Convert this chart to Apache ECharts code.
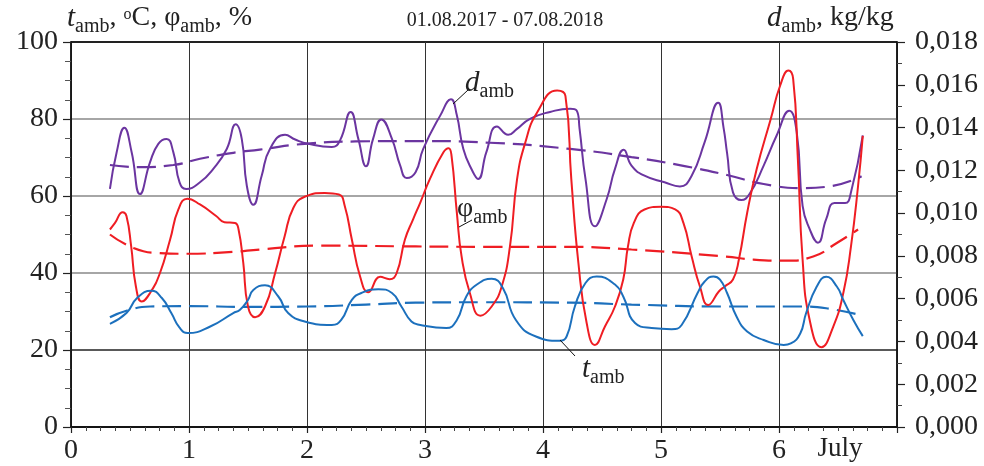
<!DOCTYPE html>
<html>
<head>
<meta charset="utf-8">
<script src="https://cdn.jsdelivr.net/npm/echarts@6/dist/echarts.min.js"></script>
<style>html,body{margin:0;padding:0;background:#fff}#c{width:984px;height:466px}</style>
</head>
<body>
<div id="c"></div>
<script>
// ---- data (x in units of the bottom axis, left axis: °C / %, right axis: kg/kg) ----
const xTickLabels = ['0','1','2','3','4','5','6',''];
const extraXLabel = 'July';
const chartTitle = '01.08.2017 - 07.08.2018';

const tAmb = [[0.33,26.8],[0.47,29.6],[0.56,33.5],[0.68,35.4],[0.77,33.5],[0.85,29.6],[0.92,25.8],[0.99,24.4],[1.18,26.1],[1.375,29.6],[1.43,30.4],[1.50,33],[1.545,35.6],[1.644,36.8],[1.757,33.9],[1.84,29.6],[1.98,27.4],[2.21,26.5],[2.29,27.8],[2.38,33],[2.46,34.8],[2.605,35.8],[2.72,34.8],[2.80,31.3],[2.885,27.4],[2.96,26.5],[3.18,25.7],[3.27,27.8],[3.35,33.9],[3.44,37],[3.565,38.5],[3.66,36.1],[3.77,27.8],[3.94,23.5],[4.14,22.4],[4.2,23.5],[4.27,31.3],[4.36,37.4],[4.455,39.1],[4.61,37],[4.68,33.9],[4.78,27],[4.92,25.7],[5.09,25.4],[5.175,26.5],[5.31,34.8],[5.37,37.8],[5.445,39.1],[5.5,38.3],[5.56,34.8],[5.64,28.7],[5.73,24.8],[5.87,22.6],[6.04,21.3],[6.10,21.7],[6.18,24.3],[6.23,29.6],[6.32,36.5],[6.40,39],[6.49,36.5],[6.545,33],[6.63,27.8],[6.71,23.6]];
const tAmbTrend = [[0.33,28.5],[0.47,30.2],[0.67,31.3],[1.0,31.4],[1.5,31.2],[2.0,31.3],[2.5,31.8],[2.92,32.3],[3.5,32.4],[4.23,32.3],[4.75,31.8],[5.54,31.3],[6.2,31.3],[6.45,30.6],[6.71,28.9]];

const phiAmb = [[0.33,51.3],[0.373,53],[0.438,55.8],[0.47,54.8],[0.51,46.9],[0.55,36.5],[0.6,32.6],[0.67,34.8],[0.754,40],[0.84,48.7],[0.91,56.5],[0.986,59.3],[1.093,57.8],[1.23,54.8],[1.30,53.2],[1.39,53],[1.42,51.3],[1.46,42.6],[1.50,31.3],[1.56,28.5],[1.644,31.3],[1.73,40],[1.81,49.5],[1.884,56.9],[1.98,59.8],[2.15,60.8],[2.27,60.4],[2.32,57.4],[2.38,48.7],[2.45,39.1],[2.52,35],[2.62,39],[2.70,38.4],[2.76,40],[2.83,48.7],[2.90,54],[2.96,58.3],[3.04,64.3],[3.155,71.3],[3.20,72.4],[3.225,70.4],[3.27,55.6],[3.31,44.3],[3.38,34.8],[3.47,28.9],[3.565,31.3],[3.65,36.5],[3.72,46.9],[3.78,64.3],[3.85,73.9],[3.95,81.7],[4.12,87.4],[4.19,86],[4.24,64.3],[4.30,42.6],[4.37,27],[4.44,21.3],[4.525,26.1],[4.61,31.3],[4.68,38.3],[4.72,46.9],[4.77,53],[4.86,56.5],[5.0,57.2],[5.12,56.5],[5.19,53],[5.26,44.3],[5.33,36.5],[5.40,31.7],[5.49,35.2],[5.54,36.5],[5.61,38.3],[5.66,43.5],[5.73,55.6],[5.81,66.9],[5.93,80],[6.01,88.7],[6.08,92.6],[6.12,90.4],[6.16,69.5],[6.20,43.5],[6.26,27.8],[6.36,20.7],[6.46,26.1],[6.545,34.8],[6.61,46.9],[6.67,62.6],[6.71,75.6]];
const phiAmbTrend = [[0.33,50],[0.53,46.5],[0.726,45.2],[0.98,45],[1.375,45.5],[1.6,46.1],[2.12,47.1],[2.92,46.9],[3.5,46.8],[4.23,46.8],[4.75,46.1],[5.54,44.3],[5.78,43.5],[6.06,43.2],[6.29,44.3],[6.49,47.8],[6.67,51.3]];

const dAmb = [[0.33,0.01113],[0.387,0.01285],[0.452,0.01399],[0.514,0.01285],[0.585,0.01089],[0.67,0.01238],[0.74,0.01324],[0.81,0.01347],[0.867,0.01285],[0.92,0.01144],[0.976,0.01113],[1.093,0.01144],[1.206,0.01207],[1.32,0.0130],[1.396,0.01415],[1.447,0.01347],[1.49,0.01128],[1.545,0.01039],[1.616,0.01175],[1.686,0.0130],[1.814,0.01366],[1.90,0.01344],[2.01,0.01324],[2.21,0.01309],[2.28,0.0134],[2.37,0.01473],[2.435,0.01347],[2.50,0.01219],[2.56,0.01347],[2.63,0.01438],[2.72,0.01347],[2.79,0.01222],[2.845,0.01164],[2.92,0.01191],[2.985,0.0130],[3.13,0.01457],[3.22,0.01532],[3.27,0.01457],[3.325,0.0130],[3.40,0.01199],[3.45,0.0116],[3.52,0.01285],[3.61,0.01405],[3.705,0.01366],[3.78,0.01394],[3.89,0.01441],[4.06,0.01473],[4.23,0.01488],[4.285,0.0148],[4.31,0.01394],[4.36,0.0116],[4.44,0.00938],[4.54,0.01066],[4.61,0.01207],[4.684,0.01296],[4.75,0.01222],[4.86,0.01175],[5.03,0.01144],[5.16,0.01125],[5.26,0.01175],[5.37,0.01332],[5.485,0.01516],[5.53,0.0140],[5.56,0.0128],[5.61,0.01097],[5.68,0.01061],[5.75,0.01089],[5.87,0.01222],[5.98,0.01363],[6.087,0.01478],[6.15,0.01379],[6.20,0.01034],[6.26,0.00925],[6.33,0.00862],[6.40,0.00972],[6.47,0.01047],[6.56,0.01047],[6.61,0.01097],[6.71,0.01363]];
const dAmbTrend = [[0.33,0.01225],[0.585,0.01215],[0.867,0.01225],[1.093,0.01254],[1.375,0.01282],[1.6,0.01297],[1.98,0.01324],[2.41,0.01335],[2.92,0.01337],[3.55,0.01329],[4.23,0.013],[4.75,0.01262],[5.2,0.0122],[5.56,0.01178],[5.87,0.01136],[6.2,0.01117],[6.43,0.01125],[6.70,0.01172]];

// ---- styling ----
const F = 'Liberation Serif';
const BLUE = '#1c70bd', RED = '#ef1d23', PURPLE = '#6b35a0';
const rich = {
  i: {fontFamily: F, fontStyle: 'italic', fontSize: 29, lineHeight: 31, verticalAlign: 'top', fill: '#222'},
  n: {fontFamily: F, fontSize: 28, lineHeight: 31, verticalAlign: 'top', fill: '#222'},
  s: {fontFamily: F, fontSize: 20, lineHeight: 20, padding: [13, 0, 0, 0], verticalAlign: 'top', fill: '#222'},
  o: {fontFamily: F, fontSize: 16, lineHeight: 16, padding: [3, 0, 0, 0], verticalAlign: 'top', fill: '#222'}
};

const chart = echarts.init(document.getElementById('c'), null, {renderer: 'canvas'});

function solid(name, data, color, yIdx) {
  return {name, type: 'line', data, yAxisIndex: yIdx, showSymbol: false, smooth: 0.5,
    lineStyle: {color, width: 2}, z: 3, silent: true};
}
function dashed(name, data, color, yIdx) {
  return {name, type: 'line', data, yAxisIndex: yIdx, showSymbol: false, smooth: 0.5,
    lineStyle: {color, width: 2.2, type: [19, 8]}, z: 2, silent: true};
}

chart.setOption({
  animation: false,
  backgroundColor: '#fff',
  grid: {left: 71, right: 87, top: 42, bottom: 39, show: true, borderColor: '#222', borderWidth: 1.5, backgroundColor: 'transparent'},
  xAxis: {
    type: 'value', min: 0, max: 7, interval: 1,
    axisLine: {lineStyle: {color: '#111', width: 1.5}},
    axisTick: {show: true, length: 6, lineStyle: {color: '#222', width: 1.2}},
    minorTick: {show: true, splitNumber: 8, length: 4, lineStyle: {color: '#444', width: 1}},
    splitLine: {show: true, lineStyle: {color: '#333', width: 1}},
    axisLabel: {margin: 10, fontFamily: F, fontSize: 28, color: '#222',
      formatter: v => xTickLabels[Math.round(v)] ?? ''}
  },
  yAxis: [{
    type: 'value', min: 0, max: 100, interval: 20, position: 'left',
    axisLine: {show: true, lineStyle: {color: '#111', width: 1.5}},
    axisTick: {show: true, length: 8, lineStyle: {color: '#222', width: 1.2}},
    minorTick: {show: true, splitNumber: 4, length: 6, lineStyle: {color: '#555', width: 1}},
    splitLine: {show: true, lineStyle: {color: ['#111', '#222', '#888', '#888', '#888', '#111'], width: 1.5}},
    axisLabel: {margin: 13, fontFamily: F, fontSize: 28, color: '#222'}
  }, {
    type: 'value', min: 0, max: 0.018, interval: 0.002, position: 'right',
    axisLine: {show: true, lineStyle: {color: '#111', width: 1.5}},
    axisTick: {show: true, length: 8, lineStyle: {color: '#222', width: 1.2}},
    minorTick: {show: true, splitNumber: 2, length: 5, lineStyle: {color: '#444', width: 1}},
    splitLine: {show: false},
    axisLabel: {margin: 18, fontFamily: F, fontSize: 28, color: '#222',
      formatter: v => v.toFixed(3).replace('.', ',')}
  }],
  series: [
    dashed('d trend', dAmbTrend, PURPLE, 1),
    dashed('phi trend', phiAmbTrend, RED, 0),
    dashed('t trend', tAmbTrend, BLUE, 0),
    solid('d_amb', dAmb, PURPLE, 1),
    solid('phi_amb', phiAmb, RED, 0),
    solid('t_amb', tAmb, BLUE, 0)
  ],
  graphic: [
    {type: 'text', x: 67, y: 4, z: 10, style: {text: '{i|t}{s|amb}{n|, }{o|o}{n|C, φ}{s|amb}{n|, %}', rich}},
    {type: 'text', x: 767, y: 4, z: 10, style: {text: '{i|d}{s|amb}{n|, kg/kg}', rich}},
    {type: 'text', x: 505, y: 11, z: 10, style: {text: chartTitle, fontFamily: F, fontSize: 20, fill: '#222', align: 'center', verticalAlign: 'top'}},
    {type: 'text', x: 840, y: 435, z: 10, style: {text: extraXLabel, fontFamily: F, fontSize: 27, fill: '#222', align: 'center', verticalAlign: 'top'}},
    // annotations
    {type: 'text', x: 465, y: 69, z: 10, style: {text: '{i|d}{s|amb}', rich}},
    {type: 'line', z: 10, shape: {x1: 453, y1: 104, x2: 468, y2: 90}, style: {stroke: '#111', lineWidth: 1}},
    {type: 'text', x: 457, y: 195, z: 10, style: {text: '{n|φ}{s|amb}', rich}},
    {type: 'line', z: 10, shape: {x1: 459, y1: 227, x2: 472, y2: 220}, style: {stroke: '#111', lineWidth: 1}},
    {type: 'text', x: 582, y: 355, z: 10, style: {text: '{i|t}{s|amb}', rich}},
    {type: 'line', z: 10, shape: {x1: 560, y1: 340, x2: 575, y2: 356}, style: {stroke: '#111', lineWidth: 1}}
  ]
});
</script>
</body>
</html>
